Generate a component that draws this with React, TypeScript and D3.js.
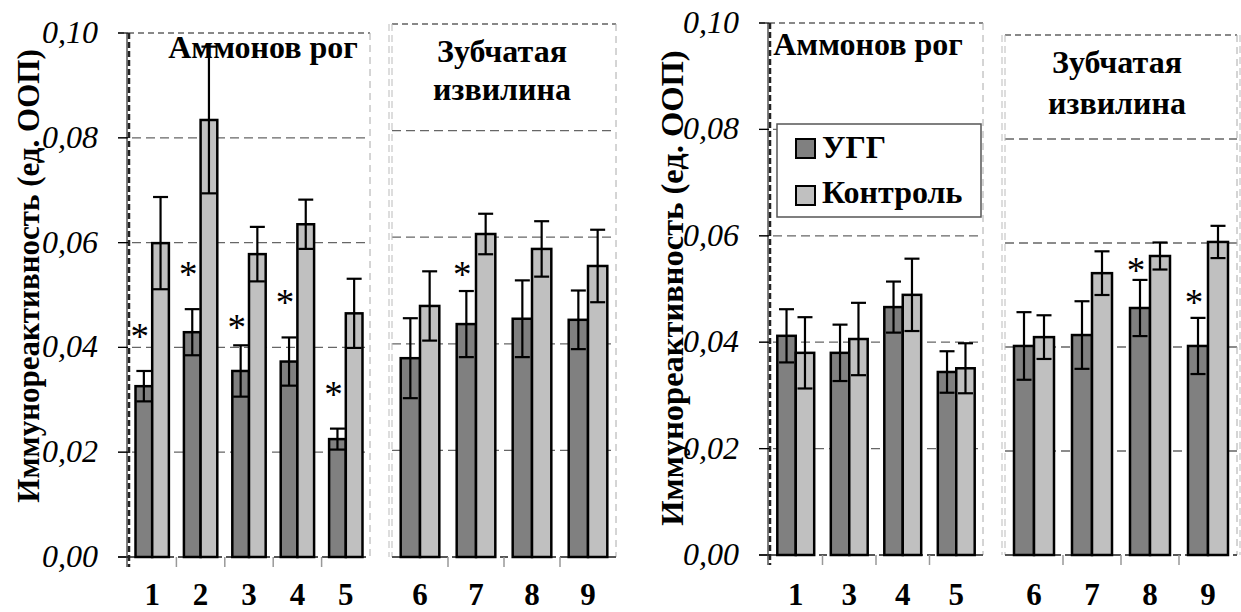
import * as d3 from 'd3'
import React from 'react'

// Аммонов рог, левая панель
const hippoCats = ['1', '2', '3', '4', '5']
const hippoUgg = [0.0326, 0.0429, 0.0355, 0.0373, 0.0225]
const hippoUggErr = [0.0029, 0.0044, 0.0049, 0.0046, 0.002]
const hippoCtrl = [0.0599, 0.0834, 0.0578, 0.0635, 0.0465]
const hippoCtrlErr = [0.0088, 0.014, 0.0052, 0.0047, 0.0066]
const hippoStars = [0.0435, 0.0553, 0.0452, 0.05, 0.0324]

// Зубчатая извилина, левая панель
const dentCats = ['6', '7', '8', '9']
const dentUgg = [0.0373, 0.0437, 0.0447, 0.0445]
const dentUggErr = [0.0075, 0.0062, 0.0072, 0.0055]
const dentCtrl = [0.0471, 0.0606, 0.0578, 0.0546]
const dentCtrlErr = [0.0065, 0.0038, 0.0052, 0.0068]
const dentStars = [null, 0.0544, null, null]

// Аммонов рог, правая панель
const hippo2Cats = ['1', '3', '4', '5']
const hippo2Ugg = [0.0412, 0.038, 0.0466, 0.0344]
const hippo2UggErr = [0.005, 0.0053, 0.0048, 0.0039]
const hippo2Ctrl = [0.038, 0.0406, 0.0489, 0.0351]
const hippo2CtrlErr = [0.0067, 0.0068, 0.0068, 0.0047]
const hippo2Stars = [null, null, null, null]

// Зубчатая извилина, правая панель
const dent2Cats = ['6', '7', '8', '9']
const dent2Ugg = [0.0402, 0.0423, 0.0475, 0.0402]
const dent2UggErr = [0.0065, 0.0065, 0.0054, 0.0054]
const dent2Ctrl = [0.0419, 0.0542, 0.0575, 0.0602]
const dent2CtrlErr = [0.0042, 0.0042, 0.0026, 0.0031]
const dent2Stars = [null, null, 0.0562, 0.05]

const yTicks = [0, 0.02, 0.04, 0.06, 0.08, 0.1]
const seriesNames = ['УГГ', 'Контроль']
const yTitle = 'Иммунореактивность (ед. ООП)'

const SERIF = '"Liberation Serif", "Times New Roman", Times, "DejaVu Serif", serif'
const DARK = '#808080'
const LIGHT = '#c0c0c0'
const fmt = (v) => d3.format('.2f')(v).replace('.', ',')

const Panel = (props) => {
  const { cats, ugg, uggErr, ctrl, ctrlErr, stars, left, right, top, bottom, axis, title, titleX, titleY } = props
  const x = d3.scaleBand().domain(cats).range([left, right])
  const inner = d3.scaleBand().domain(['ugg', 'ctrl']).range([0, x.bandwidth()]).paddingOuter(0.45)
  const y = d3.scaleLinear().domain([0, 0.1]).range([bottom, top])
  const bw = inner.bandwidth()
  const cap = 7.5

  const bars = []
  const errs = []
  cats.forEach((c, i) => {
    const series = [
      ['ugg', ugg[i], uggErr[i], DARK],
      ['ctrl', ctrl[i], ctrlErr[i], LIGHT],
    ]
    series.forEach(([k, v, e, fill]) => {
      const bx = x(c) + inner(k)
      bars.push(
        <rect key={c + k} x={bx} y={y(v)} width={bw} height={bottom - y(v)}
          fill={fill} stroke="#000" strokeWidth={2.5} />
      )
      const cx = bx + bw / 2
      errs.push(
        <g key={'e' + c + k} stroke="#000" strokeWidth={2.2}>
          <line x1={cx} x2={cx} y1={y(v + e)} y2={y(v - e)} />
          <line x1={cx - cap} x2={cx + cap} y1={y(v + e)} y2={y(v + e)} />
          <line x1={cx - cap} x2={cx + cap} y1={y(v - e)} y2={y(v - e)} />
        </g>
      )
    })
  })

  return (
    <g>
      {/* сетка */}
      {yTicks.filter((t) => t > 0 && t < 0.1).map((t) => (
        <line key={t} x1={axis ? left - 10 : left} x2={right} y1={y(t)} y2={y(t)}
          stroke="#666" strokeWidth={1.3} strokeDasharray="9 5" />
      ))}
      <line x1={axis ? left - 10 : left} x2={right} y1={y(0.1)} y2={y(0.1)}
        stroke="#888" strokeWidth={2} strokeDasharray="6 4" />
      <line x1={right} x2={right} y1={top} y2={bottom} stroke="#aaa" strokeWidth={1} strokeDasharray="7 5" />
      {!axis && (
        <g stroke="#bbb" strokeWidth={1} strokeDasharray="7 4">
          <line x1={left - 3} x2={left - 3} y1={top} y2={bottom} />
          <line x1={left} x2={left} y1={top} y2={bottom} />
        </g>
      )}
      {/* ось X */}
      <line x1={axis ? left - 10 : left} x2={right} y1={bottom} y2={bottom}
        stroke="#555" strokeWidth={2} strokeDasharray="8 4" />
      {cats.slice(1).map((c) => (
        <line key={'t' + c} x1={x(c)} x2={x(c)} y1={bottom} y2={bottom + 10} stroke="#999" strokeWidth={1.5} />
      ))}
      {cats.map((c) => (
        <text key={'l' + c} x={x(c) + x.bandwidth() / 2} y={605} textAnchor="middle"
          style={{ fontFamily: SERIF }} fontWeight="bold" fontSize={31}>{c}</text>
      ))}
      {/* ось Y */}
      {axis && (
        <g>
          <line x1={left - 1} x2={left - 1} y1={top} y2={bottom + 10} stroke="#000" strokeWidth={1} />
          <line x1={left + 1} x2={left + 1} y1={top} y2={bottom + 10} stroke="#222" strokeWidth={2.5} strokeDasharray="6 3" />
          {yTicks.map((t) => (
            <g key={'y' + t}>
              <line x1={left - 10} x2={left} y1={y(t)} y2={y(t)} stroke="#000" strokeWidth={1.2} />
              <text x={left - 30} y={y(t) + 10} textAnchor="end" style={{ fontFamily: SERIF }}
                fontStyle="italic" fontSize={32}>{fmt(t)}</text>
            </g>
          ))}
        </g>
      )}
      {bars}
      {errs}
      {cats.map((c, i) => stars[i] == null ? null : (
        <text key={'s' + c} x={x(c) + inner('ugg') + bw / 2 - 4} y={y(stars[i]) + 20}
          textAnchor="middle" style={{ fontFamily: SERIF }} fontSize={37}>*</text>
      ))}
      {title.map((s, i) => (
        <text key={'h' + i} x={titleX} y={titleY[i]} textAnchor="middle"
          style={{ fontFamily: SERIF }} fontWeight="bold" fontSize={32}>{s}</text>
      ))}
    </g>
  )
}

const App = () => {
  return (
    <svg width={1241} height={612} style={{ position: 'absolute', left: 0, top: 0, background: '#fff' }}>
      <Panel cats={hippoCats} ugg={hippoUgg} uggErr={hippoUggErr} ctrl={hippoCtrl} ctrlErr={hippoCtrlErr}
        stars={hippoStars} left={128} right={370} top={33} bottom={557} axis
        title={['Аммонов рог']} titleX={263} titleY={[58]} />
      <Panel cats={dentCats} ugg={dentUgg} uggErr={dentUggErr} ctrl={dentCtrl} ctrlErr={dentCtrlErr}
        stars={dentStars} left={392} right={616} top={24} bottom={557} axis={false}
        title={['Зубчатая', 'извилина']} titleX={502} titleY={[62, 100]} />
      <Panel cats={hippo2Cats} ugg={hippo2Ugg} uggErr={hippo2UggErr} ctrl={hippo2Ctrl} ctrlErr={hippo2CtrlErr}
        stars={hippo2Stars} left={769} right={983} top={23} bottom={555} axis
        title={['Аммонов рог']} titleX={868} titleY={[55]} />
      <Panel cats={dent2Cats} ugg={dent2Ugg} uggErr={dent2UggErr} ctrl={dent2Ctrl} ctrlErr={dent2CtrlErr}
        stars={dent2Stars} left={1005} right={1237} top={35} bottom={555} axis={false}
        title={['Зубчатая', 'извилина']} titleX={1117} titleY={[73, 114]} />
      <line x1={1240} x2={1240} y1={35} y2={555} stroke="#bbb" strokeWidth={1} strokeDasharray="7 4" />

      <text transform="translate(28,276) rotate(-90)" textAnchor="middle" dominantBaseline="central"
        style={{ fontFamily: SERIF }} fontWeight="bold" fontSize={31}>{yTitle}</text>
      <text transform="translate(672,288) rotate(-90)" textAnchor="middle" dominantBaseline="central"
        style={{ fontFamily: SERIF }} fontWeight="bold" fontSize={32.5}>{yTitle}</text>

      {/* легенда */}
      <g style={{ fontFamily: SERIF }} fontWeight="bold" fontSize={32}>
        <rect x={777} y={124} width={204} height={93} fill="#fff" stroke="#555" strokeWidth={1.5} />
        {seriesNames.map((s, i) => (
          <g key={s}>
            <rect x={796} y={139 + i * 47} width={19} height={19} fill={i === 0 ? DARK : LIGHT}
              stroke="#000" strokeWidth={2} />
            <text x={822} y={158 + i * 45}>{s}</text>
          </g>
        ))}
      </g>
    </svg>
  )
}

export default App
